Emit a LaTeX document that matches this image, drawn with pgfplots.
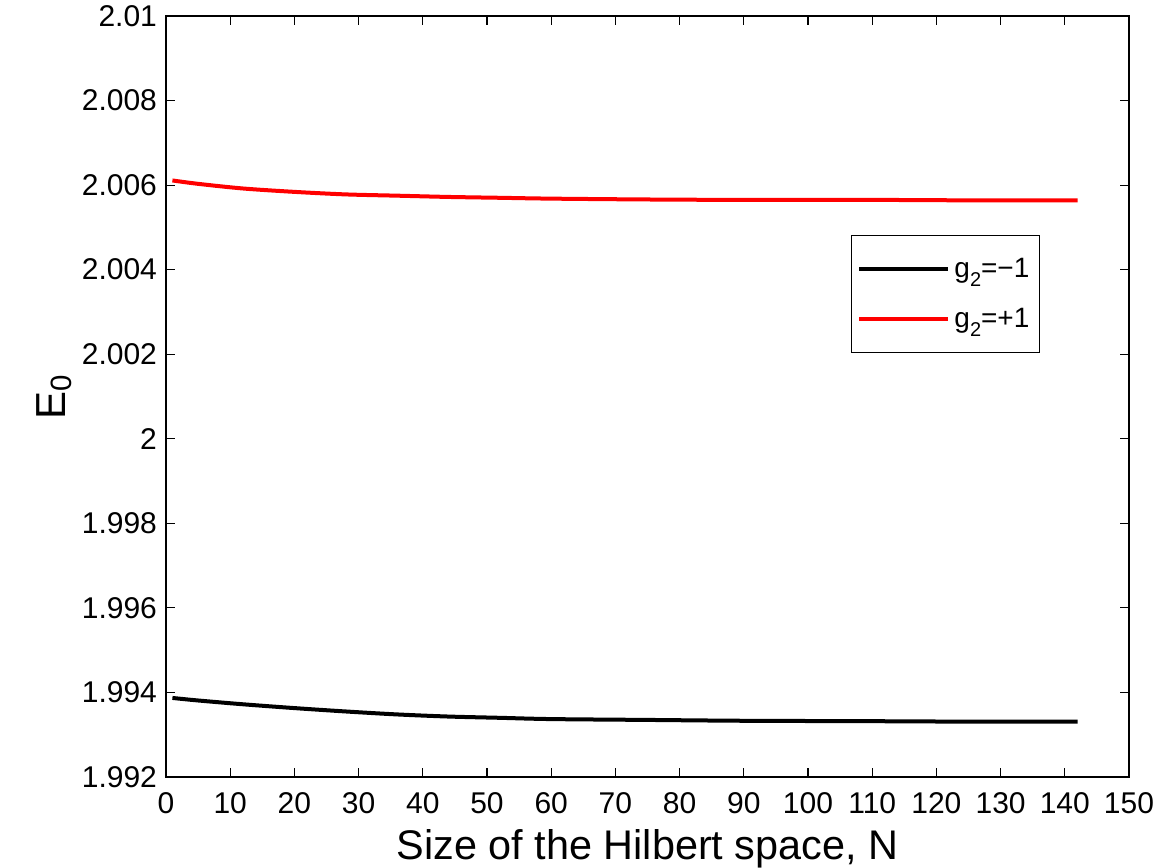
\documentclass[border=0pt]{standalone}
\usepackage{pgfplots}
\pgfplotsset{compat=1.18}
\usepackage{fontspec}
\setmainfont{Liberation Sans}
\newcommand{\subtwo}{\raisebox{-4.5pt}{\fontsize{10}{12}\selectfont 2}}
\begin{document}
\begin{tikzpicture}
\begin{axis}[
  name=ax,
  scale only axis,
  width=481.5pt, height=380.5pt,
  xmin=0, xmax=150, ymin=1.992, ymax=2.01,
  xtick={0,10,...,150},
  ytick={1.992,1.994,1.996,1.998,2,2.002,2.004,2.006,2.008,2.01},
  yticklabels={1.992,1.994,1.996,1.998,2,2.002,2.004,2.006,2.008,2.01},
  scaled y ticks=false,
  /pgf/number format/assume math mode=true,
  tick align=inside,
  major tick length=4.5pt,
  tick style={black, line width=0.6pt},
  axis line style={line width=0.6pt},
  ticklabel style={font=\fontsize{15}{17}\selectfont},
  xticklabel style={yshift=-4pt},
  yticklabel style={xshift=-1pt},
  xlabel={Size of the Hilbert space, N},
  ylabel={E\textsubscript{0}},
  xlabel style={font=\fontsize{20.7}{23}\selectfont, yshift=-1pt},
  ylabel style={font=\fontsize{21}{23}\selectfont, yshift=-2pt},
  legend style={at={(rel axis cs:0.9076,0.712)}, anchor=north east,
    draw=black, line width=0.6pt, font=\fontsize{14}{17}\selectfont,
    row sep=10pt, inner xsep=3pt, inner ysep=9pt},
  legend cell align=left,
  legend image code/.code={\draw[#1, line width=2pt] (6pt,0cm) -- (50.5pt,0cm);},
]
\addplot[black, line width=2pt, smooth] coordinates {
(1,1.99387) (5,1.99381) (12,1.99372) (20,1.99363) (28,1.99355) (36,1.99348)
(44,1.99343) (52,1.99340) (60,1.99337) (75,1.99335) (90,1.99333) (110,1.99332)
(125,1.99331) (142,1.99331)};
\addlegendentry{g\subtwo=−1}
\addplot[red, line width=2pt, smooth] coordinates {
(1,2.00611) (5,2.00603) (12,2.00592) (20,2.00584) (28,2.00578) (36,2.00575)
(44,2.00572) (52,2.00570) (60,2.00568) (75,2.00566) (90,2.00565) (110,2.00565)
(125,2.00564) (142,2.00564)};
\addlegendentry{g\subtwo=+1}
\end{axis}
\pgfresetboundingbox
\path[use as bounding box] ([xshift=-83pt,yshift=-45pt]ax.south west) rectangle ([xshift=15.5pt,yshift=8pt]ax.north east);
\end{tikzpicture}
\end{document}
